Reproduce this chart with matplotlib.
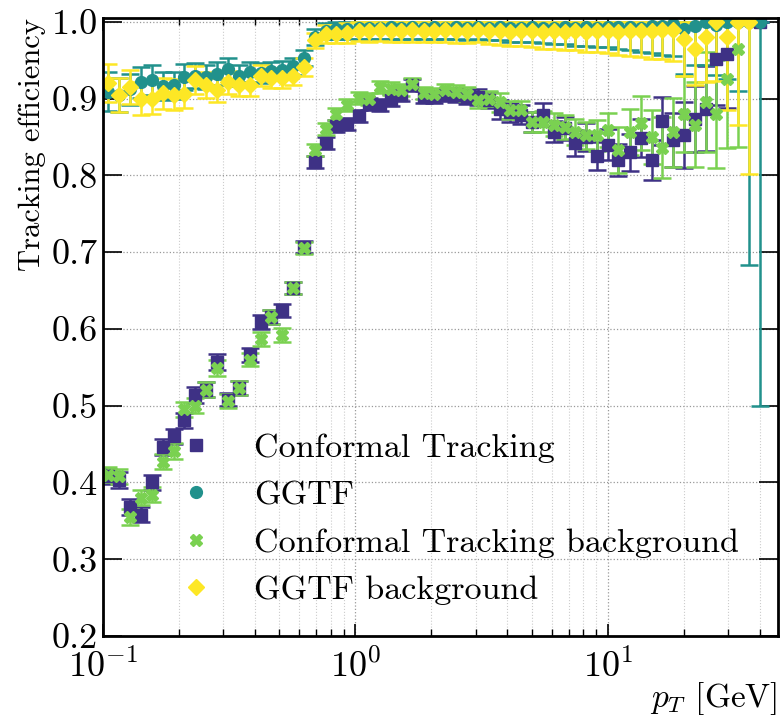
import numpy as np
import matplotlib
matplotlib.use("Agg")
import matplotlib.pyplot as plt

plt.rcParams['font.family'] = ['cmr10', 'DejaVu Serif']
plt.rcParams['mathtext.fontset'] = 'cm'
plt.rcParams['axes.formatter.use_mathtext'] = True

nan = np.nan

# bin centres in pT [GeV]
pt = [0.105, 0.116, 0.128, 0.142, 0.156, 0.173, 0.191, 0.210, 0.232, 0.256,
      0.283, 0.313, 0.345, 0.381, 0.421, 0.465, 0.513, 0.566, 0.625, 0.690,
      0.762, 0.841, 0.929, 1.03, 1.13, 1.25, 1.38, 1.52, 1.68, 1.86,
      2.05, 2.26, 2.50, 2.76, 3.05, 3.37, 3.72, 4.10, 4.53, 5.00,
      5.52, 6.10, 6.73, 7.43, 8.20, 9.06, 10.0, 11.0, 12.2, 13.5,
      14.9, 16.4, 18.1, 20.0, 22.1, 24.4, 26.9, 29.7, 32.8, 36.2, 40.0]

# Conformal Tracking
eff_ct = [0.408, 0.403, 0.368, 0.358, 0.400, 0.446, 0.460, 0.481, 0.514, 0.521,
          0.557, 0.508, 0.523, 0.566, 0.609, 0.615, 0.624, 0.653, 0.707, 0.817,
          0.842, 0.864, 0.867, 0.877, 0.893, 0.892, 0.898, 0.905, 0.918, 0.902,
          0.902, 0.905, 0.905, 0.902, 0.902, 0.898, 0.886, 0.882, 0.879, 0.870,
          0.879, 0.857, 0.861, 0.842, 0.850, 0.825, 0.840, 0.820, 0.830, 0.849,
          0.820, 0.871, 0.846, 0.852, 0.873, 0.887, 0.952, 0.958, nan, nan, 1.0]
err_ct = [0.010, 0.010, 0.010, 0.010, 0.010, 0.010, 0.010, 0.010, 0.010, 0.010,
          0.010, 0.009, 0.009, 0.009, 0.009, 0.009, 0.009, 0.008, 0.008, 0.008,
          0.008, 0.008, 0.008, 0.008, 0.008, 0.008, 0.008, 0.008, 0.008, 0.008,
          0.008, 0.008, 0.009, 0.009, 0.010, 0.010, 0.012, 0.012, 0.012, 0.013,
          0.015, 0.014, 0.015, 0.017, 0.018, 0.018, 0.020, 0.021, 0.024, 0.025,
          0.026, 0.031, 0.035, 0.043, 0.043, 0.055, 0.060, 0.070, nan, nan, 0.0]

# GGTF
eff_gg = [0.909, 0.905, 0.912, 0.921, 0.924, 0.916, 0.917, 0.928, 0.930, 0.928,
          0.932, 0.939, 0.930, 0.934, 0.933, 0.936, 0.937, 0.942, 0.953, 0.980,
          0.988, 0.990, 0.990, 0.992, 0.992, 0.992, 0.993, 0.992, 0.993, 0.992,
          0.993, 0.992, 0.993, 0.992, 0.993, 0.992, 0.993, 0.992, 0.992, 0.993,
          0.992, 0.992, 0.993, 0.992, 0.993, 0.992, 0.993, 0.993, 0.993, 0.992,
          0.994, 0.995, 0.997, 0.990, 0.994, 1.0, 0.996, 1.0, 1.0, 1.0, 1.0]
err_gg = [0.025, 0.022, 0.020, 0.020, 0.020, 0.018, 0.018, 0.017, 0.016, 0.016,
          0.015, 0.014, 0.014, 0.013, 0.013, 0.012, 0.012, 0.011, 0.010, 0.010,
          0.010, 0.012, 0.013, 0.014, 0.014, 0.014, 0.015, 0.014, 0.015, 0.015,
          0.015, 0.015, 0.015, 0.016, 0.016, 0.016, 0.017, 0.018, 0.019, 0.020,
          0.020, 0.021, 0.022, 0.023, 0.024, 0.025, 0.026, 0.028, 0.030, 0.032,
          0.035, 0.038, 0.042, 0.058, 0.050, 0.056, 0.065, 0.075, 0.090, 0.317, 0.500]

# Conformal Tracking background
eff_ctb = [0.410, 0.408, 0.355, 0.380, 0.384, 0.427, 0.441, 0.495, 0.500, 0.521,
           0.549, 0.506, 0.523, 0.560, 0.587, 0.615, 0.592, 0.653, 0.705, 0.833,
           0.860, 0.880, 0.892, 0.901, 0.899, 0.915, 0.913, 0.911, 0.919, 0.907,
           0.906, 0.911, 0.908, 0.906, 0.898, 0.900, 0.895, 0.885, 0.885, 0.870,
           0.870, 0.866, 0.863, 0.857, 0.852, 0.852, 0.859, 0.833, 0.856, 0.868,
           0.850, 0.836, 0.856, 0.880, 0.866, 0.895, 0.880, 0.925, 0.964, nan, nan]
err_ctb = [0.010, 0.010, 0.010, 0.010, 0.010, 0.010, 0.010, 0.010, 0.010, 0.010,
           0.010, 0.009, 0.009, 0.009, 0.009, 0.009, 0.009, 0.008, 0.008, 0.008,
           0.008, 0.008, 0.008, 0.008, 0.008, 0.008, 0.008, 0.008, 0.008, 0.008,
           0.008, 0.008, 0.009, 0.009, 0.010, 0.010, 0.012, 0.012, 0.012, 0.013,
           0.014, 0.015, 0.016, 0.017, 0.018, 0.020, 0.022, 0.030, 0.030, 0.035,
           0.035, 0.040, 0.045, 0.050, 0.055, 0.065, 0.070, 0.090, 0.127, nan, nan]

# GGTF background
eff_ggb = [0.920, 0.905, 0.915, 0.900, 0.900, 0.907, 0.905, 0.906, 0.924, 0.918,
           0.911, 0.921, 0.918, 0.917, 0.930, 0.927, 0.927, 0.929, 0.941, 0.976,
           0.984, 0.984, 0.985, 0.988, 0.988, 0.989, 0.988, 0.988, 0.989, 0.988,
           0.988, 0.989, 0.988, 0.988, 0.989, 0.988, 0.988, 0.987, 0.988, 0.988,
           0.987, 0.988, 0.987, 0.988, 0.987, 0.988, 0.988, 0.987, 0.988, 0.988,
           0.988, 0.989, 0.989, 0.978, 0.965, 0.980, 1.0, 0.980, 1.0, 1.0, nan]
err_ggb = [0.025, 0.022, 0.022, 0.022, 0.020, 0.020, 0.020, 0.018, 0.018, 0.017,
           0.016, 0.015, 0.015, 0.014, 0.014, 0.013, 0.013, 0.012, 0.012, 0.010,
           0.012, 0.012, 0.013, 0.013, 0.014, 0.014, 0.014, 0.015, 0.015, 0.015,
           0.015, 0.015, 0.016, 0.016, 0.016, 0.017, 0.018, 0.019, 0.020, 0.021,
           0.022, 0.023, 0.024, 0.025, 0.026, 0.028, 0.029, 0.030, 0.032, 0.034,
           0.036, 0.038, 0.040, 0.048, 0.047, 0.058, 0.077, 0.095, 0.134, 0.198, nan]

series = [
    ("Conformal Tracking", eff_ct, err_ct, "s", "#3e3185", 8),
    ("GGTF", eff_gg, err_gg, "o", "#21918c", 8.5),
    ("Conformal Tracking background", eff_ctb, err_ctb, "X", "#7ad151", 8.5),
    ("GGTF background", eff_ggb, err_ggb, "D", "#fde725", 8),
]

fig, ax = plt.subplots(figsize=(7.8, 7.17), dpi=100)
fig.subplots_adjust(left=0.132, right=0.997, top=0.975, bottom=0.113)

handles = []
for label, y, e, m, c, ms in series:
    y = np.array(y)
    e = np.array(e)
    up = np.minimum(e, 1 - y)
    cont = ax.errorbar(pt, y, yerr=[e, up], fmt=m, color=c, ms=ms,
                       elinewidth=1.8, capsize=6.5, capthick=1.8, label=label)
    handles.append(cont[0])

ax.set_xscale("log")
ax.set_xlim(0.1, 47)
ax.set_ylim(0.2, 1.005)
ax.set_yticks(np.arange(0.2, 1.01, 0.1))
ax.set_yticklabels(["%.1f" % v for v in np.arange(0.2, 1.01, 0.1)])

ax.grid(True, which="major", ls=":", color="0.6", lw=0.9)
ax.grid(True, which="minor", axis="x", ls=":", color="0.8", lw=0.8)
ax.tick_params(which="both", direction="in", top=True, right=True, labelsize=26)
ax.tick_params(axis="y", which="major", length=14, width=1.2)
ax.tick_params(axis="x", which="major", length=9, width=1.2)
ax.tick_params(axis="x", which="minor", length=5, width=1.0)
ax.tick_params(axis="x", pad=9)
for s in ax.spines.values():
    s.set_linewidth(2)

ax.set_xlabel("$p_T$ [GeV]", fontsize=24, loc="right", labelpad=-3)
ax.set_ylabel("Tracking efficiency", fontsize=22, loc="top", labelpad=4)

ax.legend(handles=handles, labels=[s[0] for s in series], loc="lower left",
          bbox_to_anchor=(0.055, 0.0), frameon=False, fontsize=24.5,
          handlelength=1.5, handletextpad=0.95, labelspacing=0.52)

fig.savefig("out.png", dpi=100)
